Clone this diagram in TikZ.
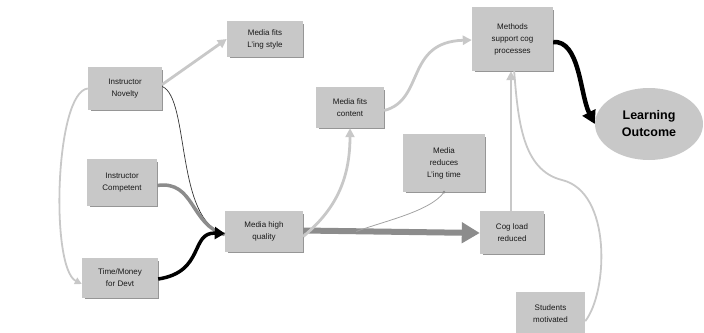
\documentclass[tikz,border=0pt]{standalone}
\usepackage{fontspec}
\setmainfont{Liberation Sans}
\usetikzlibrary{arrows.meta,shapes.geometric}
\definecolor{boxfill}{RGB}{200,200,200}
\definecolor{boxedge}{RGB}{150,150,150}
\definecolor{lightline}{RGB}{200,200,200}
\definecolor{midline}{RGB}{140,140,140}
\begin{document}
\begin{tikzpicture}[x=1pt,y=-1pt,
  box/.style={fill=boxfill,draw=none,minimum width=#1,align=center,inner sep=1pt,
    font=\fontsize{8}{12}\selectfont,text=black!90},
  light/.style={draw=lightline,line width=2.8pt},
  lightthin/.style={draw=lightline,line width=1.8pt},
  tipL/.style={-{Triangle[length=9pt,width=9pt]}},
]
\useasboundingbox (0,0) rectangle (704,332);
% nodes
\node[box=74,minimum height=43] (nov) at (125,88.5) {Instructor\\Novelty};
\node[box=76,minimum height=36] (style) at (265,39) {Media fits\\L'ing style};
\node[box=70,minimum height=47] (comp) at (122,182.5) {Instructor\\Competent};
\node[box=76,minimum height=40] (time) at (120,278) {Time/Money\\for Devt};
\node[box=78,minimum height=41] (mhq) at (264,231.5) {Media high\\quality};
\node[box=81,minimum height=64] (meth) at (512.5,39) {Methods\\support cog\\processes};
\node[box=68,minimum height=41] (cont) at (350,107.5) {Media fits\\content};
\node[box=82,minimum height=58] (red) at (444,163) {Media\\reduces\\L'ing time};
\node[box=64,minimum height=43] (cog) at (512,232.5) {Cog load\\reduced};
\node[box=69,minimum height=42,anchor=north] (stud) at (550.5,292) {Students\\motivated};
\node[ellipse,fill=boxfill,minimum width=108,minimum height=72,inner sep=0pt,align=center,
  font=\fontsize{12.5}{17}\selectfont\bfseries] (lo) at (649,124) {Learning\\Outcome};
% shadows
\foreach \n in {nov,style,comp,time,mhq,meth,cont,red,cog}{
  \draw[boxedge,line width=1pt] ([xshift=3pt]\n.south west) -- (\n.south east) -- ([yshift=-3pt]\n.north east);
}
% connectors
\draw[light,tipL] (nov.east) ++(0,-4) coordinate (n1) (n1) -- (style.west);
\draw[lightthin,-{Triangle[length=7pt,width=7pt]}] (nov.west) .. controls (55,92) and (50,268) .. ([yshift=-6pt]time.west);
\draw[black!80,line width=0.7pt] ([yshift=2pt]nov.east) .. controls (190,98) and (175,222) .. ([yshift=-2pt]mhq.west);
\draw[midline,line width=3.5pt] ([yshift=-3pt]comp.east) .. controls (195,180) and (190,225) .. ([yshift=-3pt]mhq.west);
\draw[black,line width=3.5pt,-{Triangle[length=10pt,width=12pt]}] ([yshift=-1pt]time.east) .. controls (205,272) and (190,232) .. ([yshift=-2pt]mhq.west);
\draw[midline,line width=6pt,-{Triangle[length=18pt,width=20pt]}] ([yshift=1pt]mhq.east) -- ([yshift=-0.5pt]cog.west);
\coordinate (jn) at (355,232);
\draw[light,tipL] ([yshift=-5pt]mhq.east) .. controls (335,210) and (350,180) .. (cont.south);
\draw[light,tipL] ([yshift=-3pt]cont.east) .. controls (425,100) and (405,42) .. ([yshift=-1pt]meth.west);
\draw[midline!80,line width=0.8pt] (red.south) .. controls (430,212) and (380,222) .. (jn);
\fill[midline] (jn) circle (1.5pt);
\fill[midline] (red.south) circle (1.5pt);
\draw[light,tipL] ([xshift=-1pt]cog.north) -- ([xshift=-1.5pt]meth.south);
\draw[lightthin] ([yshift=-8pt]stud.east) .. controls (608,292) and (612,192) .. (562,180)
  .. controls (522,170) and (518,120) .. ([xshift=1.5pt,yshift=2pt]meth.south);
\draw[black,line width=4.5pt,-{Triangle[length=13pt,width=14pt]}] ([yshift=-3pt]meth.east) .. controls (580,40) and (580,95) .. (lo.west);
\end{tikzpicture}
\end{document}
